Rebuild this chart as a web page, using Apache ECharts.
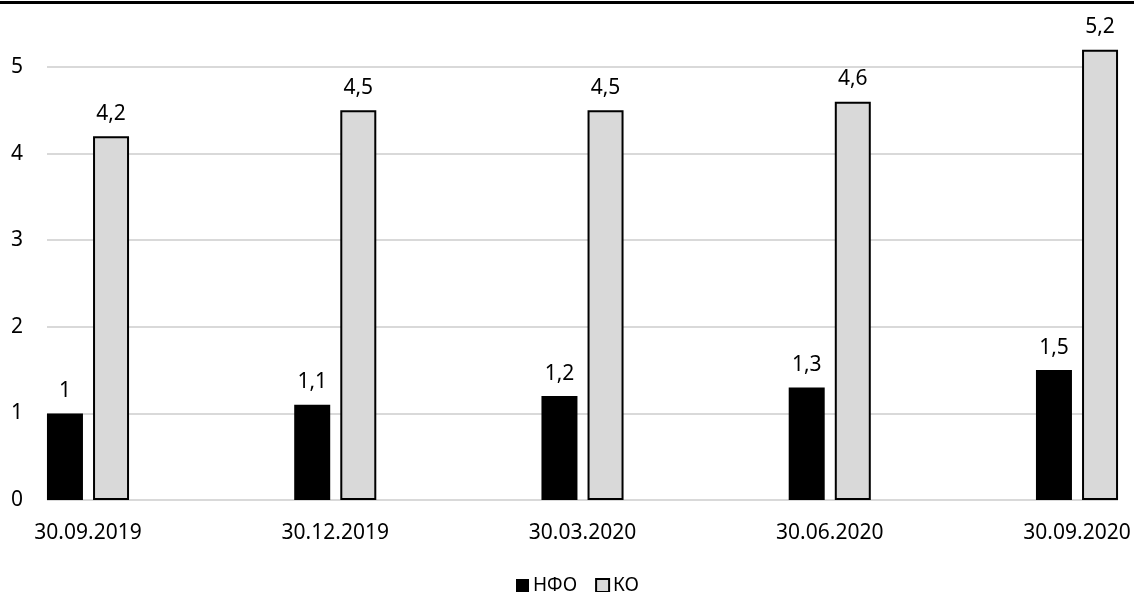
<!DOCTYPE html>
<html>
<head>
<meta charset="utf-8">
<script src="https://cdn.jsdelivr.net/npm/echarts@6/dist/echarts.min.js"></script>
<style>
  html, body { margin: 0; padding: 0; background: #fff; }
  #charts { width: 1134px; height: 592px; }
</style>
</head>
<body>
<div id="charts"></div>
<script>
// данные с картинки
var categories = ['30.09.2019', '30.12.2019', '30.03.2020', '30.06.2020', '30.09.2020'];
var nfoValues = [1, 1.1, 1.2, 1.3, 1.5];
var koValues = [4.2, 4.5, 4.5, 4.6, 5.2];
var seriesNames = ['НФО', 'КО'];

var fontName = 'Noto Sans';

function fmt(p) { // запятая вместо точки
    return String(p.value).replace('.', ',');
}

var myChart = echarts.init(document.getElementById('charts'), null, { renderer: 'canvas' });

var option = {
    backgroundColor: '#fff',
    animation: false,
    textStyle: { fontFamily: fontName },
    graphic: [
        { type: 'rect', shape: { x: 0, y: 1, width: 1134, height: 3 }, style: { fill: '#000' } }
    ],
    grid: [
        // сетка с линиями (шире, чем бары)
        { left: 47, right: 16, top: 67, bottom: 92 },
        // бары
        { left: 88, right: 57, top: 67, bottom: 92 }
    ],
    xAxis: [
        { type: 'value', gridIndex: 0, show: false, min: 0, max: 1 },
        {
            type: 'category', gridIndex: 1, data: categories, boundaryGap: false,
            axisLine: { show: false }, axisTick: { show: false },
            axisLabel: { color: '#000', fontSize: 21, margin: 23, fontFamily: fontName }
        }
    ],
    yAxis: [
        {
            type: 'value', gridIndex: 0, min: 0, max: 5, interval: 1,
            axisLine: { show: false }, axisTick: { show: false },
            axisLabel: { color: '#000', fontSize: 21, margin: 24, fontFamily: fontName },
            splitLine: { lineStyle: { color: '#d9d9d9', width: 2 } }
        },
        { type: 'value', gridIndex: 1, min: 0, max: 5, show: false, splitLine: { show: false } }
    ],
    legend: {
        left: 511, top: 571,
        itemWidth: 13, itemHeight: 13, itemGap: 18,
        icon: 'rect',
        textStyle: { color: '#000', fontSize: 19, fontFamily: fontName, padding: [0, 0, 0, -1] },
        data: seriesNames
    },
    series: [
        {
            name: seriesNames[0], type: 'bar', xAxisIndex: 1, yAxisIndex: 1,
            data: nfoValues, barWidth: 36, barGap: '28%', clip: false,
            itemStyle: { color: '#000' },
            label: { show: true, position: 'top', distance: 12, color: '#000', fontSize: 21, formatter: fmt }
        },
        {
            name: seriesNames[1], type: 'bar', xAxisIndex: 1, yAxisIndex: 1,
            data: koValues, barWidth: 36, barGap: '28%', clip: false,
            itemStyle: { color: '#d9d9d9', borderColor: '#000', borderWidth: 2 },
            label: { show: true, position: 'top', distance: 12, color: '#000', fontSize: 21, formatter: fmt }
        }
    ]
};

option && myChart.setOption(option);
</script>
</body>
</html>
